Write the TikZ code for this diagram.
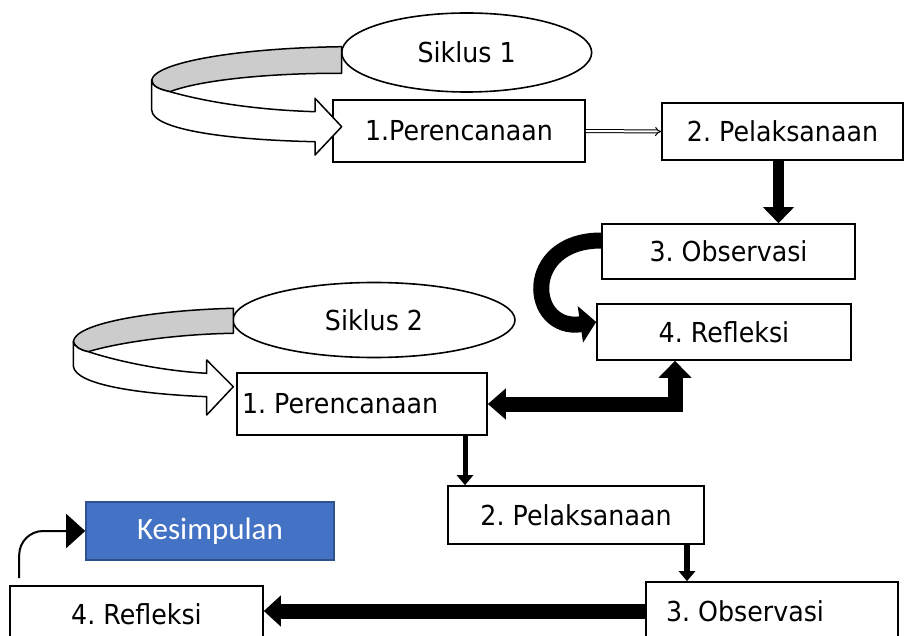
\documentclass[tikz,border=0pt]{standalone}
\usepackage{fontspec}
\setmainfont{DejaVu Sans}[FakeStretch=0.92]
\newfontfamily\kesfont{Carlito}
\usetikzlibrary{shapes.geometric,arrows.meta}
\definecolor{kesblue}{HTML}{4472C4}
\definecolor{kesline}{HTML}{2F528F}
\frenchspacing

\begin{document}
\begin{tikzpicture}[x=1pt,y=-1pt,font=\fontsize{27.5}{33}\selectfont]

      \clip (0,0) rectangle (905,636);

      \begin{scope}[every node/.style={draw,line width=1.6pt,fill=white,inner sep=0pt}]
        \node[ellipse,minimum width=250pt,minimum height=79pt] (s1) at (466.7,52.5) {Siklus 1};
        \node[minimum width=252pt,minimum height=62pt] (p1) at (459,131) {1.Perencanaan};
        \node[minimum width=241pt,minimum height=57pt] (l1) at (782.5,131.5) {2. Pelaksanaan};
        \node[minimum width=253pt,minimum height=55pt] (o1) at (728.5,251.5) {3. Observasi};
        \node[minimum width=254pt,minimum height=56pt] (r1) at (724,332) {4. Refleksi};

        \node[ellipse,minimum width=282pt,minimum height=75pt] (s2) at (374,320) {Siklus 2};
        \node[minimum height=62pt,inner xsep=5pt] (p2) at (362,404) {\makebox[240pt][l]{1. Perencanaan}};
        \node[minimum width=256pt,minimum height=58pt] (l2) at (576,515) {2. Pelaksanaan};
        \node[minimum height=58pt,inner xsep=20pt] (o2) at (772,611) {\makebox[212pt][l]{3. Observasi}};
        \node[minimum width=253pt,minimum height=56pt] (r2) at (136.5,614) {4. Refleksi};
        \node[fill=kesblue,draw=kesline,text=white,font=\kesfont\fontsize{31}{37}\selectfont,
              minimum width=248pt,minimum height=58pt] (k) at (210,531) {Kesimpulan};
      \end{scope}

      % arrows between the steps
      \begin{scope}[line join=miter]
        \draw[double,double distance=2pt,line width=1pt,-{Implies}] (p1.east) -- (l1.west);

        \coordinate (d1) at ([xshift=-4pt]l1.south);
        \draw[line width=11pt,-{Triangle[width=30pt,length=16pt]}] (d1) -- (d1 |- o1.north);

        \draw[line width=16pt,-{Triangle[width=36pt,length=16pt]}]
          ([yshift=11pt]o1.west) .. controls +(-80,0) and +(-68,10) .. ([yshift=10pt]r1.west);

        \draw[line width=15pt,{Triangle[width=30pt,length=18pt]}-{Triangle[width=32pt,length=17pt]}]
          (p2.east) -| ([xshift=-49pt]r1.south);

        \coordinate (d2) at ([xshift=103pt]p2.south);
        \draw[line width=5pt,-{Triangle[width=16pt,length=10pt]}] (d2) -- (d2 |- l2.north);

        \coordinate (d3) at ([xshift=111pt]l2.south);
        \draw[line width=6pt,-{Triangle[width=16pt,length=10pt]}] (d3) -- (d3 |- o2.north);

        \draw[line width=15pt,-{Triangle[width=30pt,length=17pt]}] (o2.west) -- (o2.west -| r2.east);

        \coordinate (k0) at ([xshift=10pt,yshift=7pt]r2.north west);
        \draw[line width=2pt,rounded corners=24pt,-{Triangle[width=34pt,length=19pt]}] (k0) |- (k.west);
      \end{scope}

      % the two curved ribbons
      \begin{scope}[line width=1.5pt,line join=round]
        \filldraw[fill=gray!40] (341.7,46.7) .. controls (240,48) and (155,62) .. (151.7,80)
          .. controls (152,86) and (158,89) .. (170,91.7)
          .. controls (200,80) and (270,73) .. (341.7,73.3) -- cycle;
        \filldraw[fill=white] (151.7,80) .. controls (152,86) and (158,89) .. (170,91.7)
          .. controls (210,103) and (260,110) .. (315,111.7) -- (315,98.3) -- (341.7,126.7)
          -- (315,155) -- (315,141.7) .. controls (230,140) and (152,130) .. (151.7,110) -- cycle;

        \filldraw[fill=gray!40] (233.3,308.3) .. controls (160,310) and (75,322) .. (73.3,341.7)
          .. controls (75,347) and (80,350) .. (88.3,351.7)
          .. controls (120,342) and (180,334) .. (233.3,333.3) -- cycle;
        \filldraw[fill=white] (73.3,341.7) .. controls (75,347) and (80,350) .. (88.3,351.7)
          .. controls (120,362) and (165,371) .. (206.7,373.3) -- (206.7,360) -- (233.3,386.7)
          -- (206.7,415) -- (206.7,396.7) .. controls (140,394) and (75,385) .. (73.3,366) -- cycle;
      \end{scope}

    \end{tikzpicture}
\end{document}
